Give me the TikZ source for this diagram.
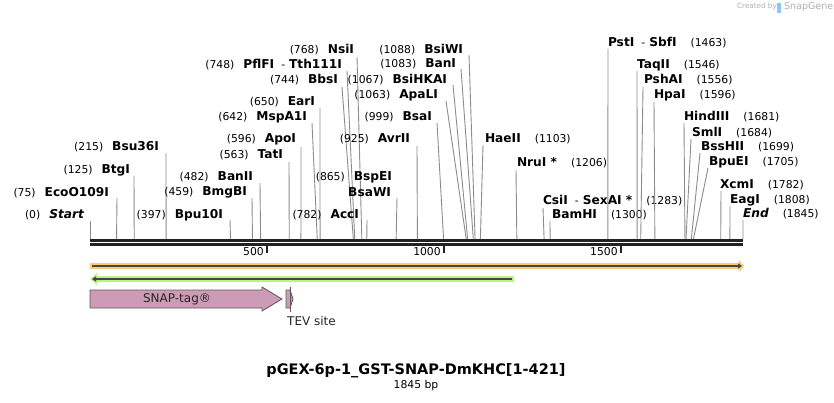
\documentclass[tikz,border=0pt]{standalone}
\usepackage{fontspec}
\setmainfont{DejaVu Sans}
\usetikzlibrary{arrows.meta}
\definecolor{cutgray}{RGB}{140,140,140}
\definecolor{bbone}{RGB}{34,34,34}
\definecolor{orfill}{RGB}{250,202,120}
\definecolor{grfill}{RGB}{190,242,135}
\definecolor{darkln}{RGB}{70,70,70}
\definecolor{snapc}{RGB}{205,155,182}
\definecolor{featedge}{RGB}{90,90,90}
\definecolor{wmgray}{RGB}{175,175,175}
\definecolor{wmblue}{RGB}{140,200,240}
\newcommand\numf{\fontsize{10.8}{13}\selectfont\mdseries\upshape}
\newcommand\nmf{\fontsize{12.2}{14}\selectfont\bfseries}
\newcommand\enzL[7]{%
  \node[enzlab,anchor=east] (n#1) at (#4,#5) {{\numf(#3)}\hspace{9pt}{\nmf #2}};
  \coordinate (s#1) at (#6,#7);
  \coordinate (c#1) at ({90+#3*0.353930},239);
  \draw[cutln] (s#1) -- (c#1);}
\newcommand\enzR[7]{%
  \node[enzlab,anchor=west] (n#1) at (#4,#5) {{\nmf #2}\hspace{14pt}{\numf(#3)}};
  \coordinate (s#1) at (#6,#7);
  \coordinate (c#1) at ({90+#3*0.353930},239);
  \draw[cutln] (s#1) -- (c#1);}
\begin{document}
\begin{tikzpicture}[x=1pt,y=-1pt,
  enzlab/.style={inner sep=0pt,outer sep=0pt,text=black},
  cutln/.style={draw=cutgray,line width=0.9pt},
  ticklab/.style={inner sep=0pt,font=\fontsize{10.8}{13}\selectfont,anchor=east},
  feat/.style={draw=featedge,line width=0.8pt,fill=snapc},
  featlab/.style={inner sep=0pt,font=\fontsize{12}{14}\selectfont}]
\useasboundingbox (0,0) rectangle (834,402);
\fill[white] (0,0) rectangle (834,402);

% watermark
\node[inner sep=0pt,anchor=west,text=wmgray,font=\fontsize{7.2}{9}\selectfont] (wm1) at (737,7) {Created by};
\fill[wmblue] (776.5,2.5) rectangle (781,12.5);
\node[inner sep=0pt,anchor=west,text=wmgray,font=\fontsize{9.5}{11}\selectfont] (wm2) at (784,7) {SnapGene};

% backbone
\fill[bbone] (90,239) rectangle (743,242);
\fill[bbone] (90,243) rectangle (743,246);
\foreach \v/\t in {500/266.97,1000/443.93,1500/620.90}{
  \draw[bbone,line width=2pt] (\t,246) -- (\t,253);
  \node[ticklab] (tick\v) at (\t-3,252) {\v};
}

% enzymes (number first)
\enzL{Start}{\itshape Start}{0}{84}{215}{90}{221}
\enzL{EcoO}{EcoO109I}{75}{109}{193}{117}{198}
\enzL{BtgI}{BtgI}{125}{130}{170}{134}{176}
\enzL{Bsu}{Bsu36I}{215}{159}{147}{166}{153}
\enzL{Bpu}{Bpu10I}{397}{223}{215}{230}{220}
\enzL{BmgBI}{BmgBI}{459}{247}{192}{252}{198}
\enzL{BanII}{BanII}{482}{253}{177}{260}{183}
\enzL{TatI}{TatI}{563}{283}{155}{289}{162}
\enzL{ApoI}{ApoI}{596}{296}{139}{301}{147}
\enzL{MspA}{MspA1I}{642}{307}{117}{312}{123}
\enzL{EarI}{EarI}{650}{315}{102}{320}{108}
\enzL{PflFI}{PflFI\hspace{7pt}{\numf -}\hspace{4pt}Tth111I}{748}{342}{65}{347}{71}
\enzL{BbsI}{BbsI}{744}{338}{80}{342}{87}
\enzL{NsiI}{NsiI}{768}{354}{50}{357}{57}
\enzL{AccI}{AccI}{782}{359}{215}{367}{220}
\node[enzlab,anchor=east] (nBspEI) at (392,177) {{\numf(865)}\hspace{9pt}{\nmf BspEI}};
\node[enzlab,anchor=east] (nBsaWI) at (391,192) {{\nmf BsaWI}};
\coordinate (sBsaWI) at (397,198);
\coordinate (cBsaWI) at ({90+865*0.353930},239);
\draw[cutln] (sBsaWI) -- (cBsaWI);
\enzL{AvrII}{AvrII}{925}{410}{139}{417}{146}
\enzL{BsaI}{BsaI}{999}{432}{117}{437}{123}
\enzL{ApaLI}{ApaLI}{1063}{438}{95}{446}{101}
\enzL{BsiHKAI}{BsiHKAI}{1067}{447}{80}{453}{85}
\enzL{BanI}{BanI}{1083}{456}{64}{461}{69}
\enzL{BsiWI}{BsiWI}{1088}{463}{50}{469}{55}

% enzymes (name first)
\enzR{HaeII}{HaeII}{1103}{485}{139}{483}{145}
\enzR{NruI}{NruI *}{1206}{517}{163}{516}{170}
\enzR{CsiI}{CsiI\hspace{7pt}{\numf -}\hspace{4pt}SexAI *}{1283}{543}{201}{543}{208}
\enzR{BamHI}{BamHI}{1300}{552}{215}{550}{221}
\enzR{PstI}{PstI\hspace{7pt}{\numf -}\hspace{4pt}SbfI}{1463}{608}{43}{608}{49}
\enzR{TaqII}{TaqII}{1546}{637}{65}{637}{71}
\enzR{PshAI}{PshAI}{1556}{644}{80}{643}{87}
\enzR{HpaI}{HpaI}{1596}{654}{95}{654}{102}
\enzR{HindIII}{HindIII}{1681}{684}{117}{684}{123}
\enzR{SmlI}{SmlI}{1684}{692}{133}{691}{139}
\enzR{BssHII}{BssHII}{1699}{701}{147}{700}{153}
\enzR{BpuEI}{BpuEI}{1705}{709}{162}{708}{168}
\enzR{XcmI}{XcmI}{1782}{720}{185}{721}{191}
\enzR{EagI}{EagI}{1808}{730}{200}{730}{206}
\enzR{End}{\itshape End}{1845}{743}{214}{743}{220}

% orange full-length feature
\fill[orfill] (90,263) -- (739,263) -- (739,260) -- (744,266) -- (739,272) -- (739,269) -- (90,269) -- cycle;
\coordinate (oA) at (92,266);
\coordinate (oB) at (742,266);
\draw[darkln,line width=2pt,-{Triangle[length=4pt,width=5pt]}] (oA) -- (oB);

% green reverse feature
\fill[grfill] (97,276) -- (514,276) -- (514,282) -- (97,282) -- (97,285) -- (90,279) -- (97,273) -- cycle;
\coordinate (gA) at (512,279);
\coordinate (gB) at (92,279);
\draw[darkln,line width=2pt,-{Triangle[length=4pt,width=5pt]}] (gA) -- (gB);

% SNAP-tag
\draw[feat] (90,290) -- (262,290) -- (262,287) -- (282,299) -- (262,311) -- (262,308) -- (90,308) -- cycle;
\node[featlab,text=black!85] (snap) at (177,299) {SNAP-tag®};

% TEV site
\draw[feat] (286,290) -- (290,290) -- (293,299) -- (290,308) -- (286,308) -- cycle;
\draw[featedge,line width=0.8pt] (290.3,287) -- (290.3,311.5);
\node[featlab,anchor=west,text=black!85] (tev) at (287,321) {TEV site};

% title
\node[inner sep=0pt,font=\fontsize{14.5}{17}\selectfont\bfseries] (title) at (416,371) {pGEX-6p-1\_GST-SNAP-DmKHC[1-421]};
\node[inner sep=0pt,font=\fontsize{10.8}{13}\selectfont] (size) at (416,386) {1845 bp};
\end{tikzpicture}
\end{document}
